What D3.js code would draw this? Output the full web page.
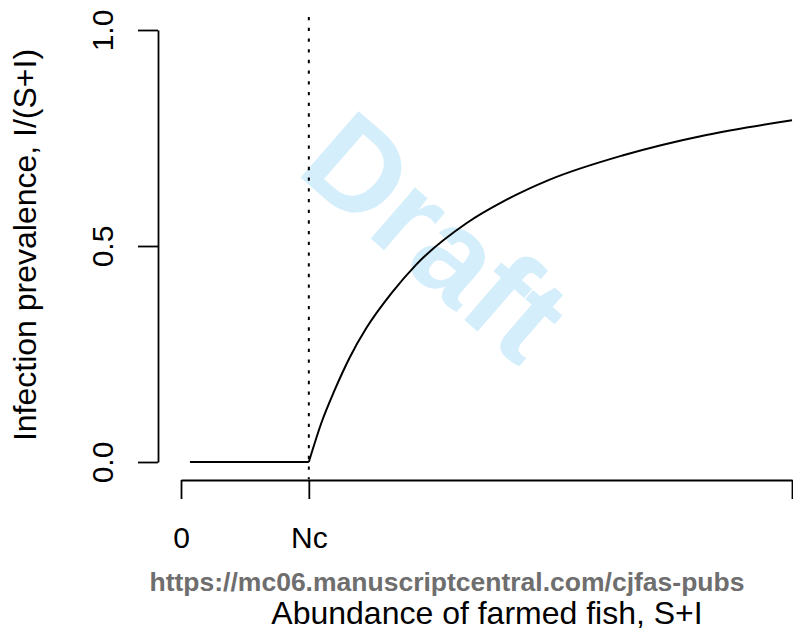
<!DOCTYPE html>
<html>
<head>
<meta charset="utf-8">
<script src="https://cdn.jsdelivr.net/npm/d3@7"></script>
<style>
  body { margin: 0; background: #fff; }
  svg { display: block; font-family: "Liberation Sans", Arial, Helvetica, sans-serif; }
</style>
</head>
<body>
<div id="chart"></div>
<script>
// values (abundance in units of Nc)
const abundance = [0.07, 1.0, 1.1, 1.2, 1.32, 1.45, 1.65, 1.84, 2.23, 2.54, 2.88, 3.46, 4.11, 4.78];
const prevalence = [0, 0, 0.092, 0.165, 0.242, 0.31, 0.392, 0.457, 0.552, 0.606, 0.653, 0.71, 0.757, 0.791];
const criticalAbundance = 1.0;
const xTickValues = [0, 1.0, 4.78];
const xTickLabels = ['0', 'Nc', ''];
const yTickValues = [0, 0.5, 1];

const width = 793, height = 630;
const svg = d3.select('#chart').append('svg')
  .attr('width', width)
  .attr('height', height);

const x = d3.scaleLinear().domain([0, 4.78]).range([181, 792]);
const y = d3.scaleLinear().domain([0, 1]).range([462, 30]);

// watermark
svg.append('text')
  .attr('transform', 'translate(407,270) rotate(41)')
  .attr('text-anchor', 'middle')
  .attr('font-size', 128)
  .attr('font-weight', 'bold')
  .attr('fill', '#d4eefb')
  .text('Draft');

// y axis
const yAxis = svg.append('g')
  .attr('transform', 'translate(158,0)')
  .call(d3.axisLeft(y).tickValues(yTickValues).tickFormat(d3.format('.1f'))
    .tickSize(20).tickSizeOuter(0));
yAxis.selectAll('path, line').attr('stroke', '#000').attr('stroke-width', 1.8);
yAxis.selectAll('text')
  .attr('x', null).attr('dy', null)
  .attr('text-anchor', 'middle')
  .attr('transform', 'translate(-45,0) rotate(-90)')
  .attr('font-size', 30)
  .attr('fill', '#000');

// x axis
const xAxis = svg.append('g')
  .attr('transform', 'translate(0,480)')
  .call(d3.axisBottom(x).tickValues(xTickValues).tickFormat((d, i) => xTickLabels[i])
    .tickSize(19).tickSizeOuter(0));
xAxis.selectAll('path, line').attr('stroke', '#000').attr('stroke-width', 1.8);
xAxis.selectAll('text')
  .attr('y', 68).attr('dy', null)
  .attr('font-size', 30)
  .attr('fill', '#000');

// critical abundance
svg.append('line')
  .attr('x1', x(criticalAbundance)).attr('x2', x(criticalAbundance))
  .attr('y1', y(1.03)).attr('y2', y(-0.04))
  .attr('stroke', '#000')
  .attr('stroke-width', 2)
  .attr('stroke-dasharray', '3.3 7.4');

// prevalence curve: flat below Nc, rising above it
const pts = abundance.map((a, i) => [a, prevalence[i]]);
const flat = pts.filter(p => p[0] <= criticalAbundance);
const rising = pts.filter(p => p[0] >= criticalAbundance);
svg.append('path')
  .datum(flat)
  .attr('fill', 'none').attr('stroke', '#000').attr('stroke-width', 2)
  .attr('d', d3.line().x(d => x(d[0])).y(d => y(d[1])));
svg.append('path')
  .datum(rising)
  .attr('fill', 'none').attr('stroke', '#000').attr('stroke-width', 2)
  .attr('d', d3.line().x(d => x(d[0])).y(d => y(d[1])).curve(d3.curveMonotoneX));

// axis titles
svg.append('text')
  .attr('transform', 'translate(36,245) rotate(-90)')
  .attr('text-anchor', 'middle')
  .attr('font-size', 32)
  .text('Infection prevalence, I/(S+I)');

svg.append('text')
  .attr('x', 447).attr('y', 591)
  .attr('text-anchor', 'middle')
  .attr('font-size', 26.5)
  .attr('font-weight', 'bold')
  .attr('fill', '#6e6e6e')
  .text('https://mc06.manuscriptcentral.com/cjfas-pubs');

svg.append('text')
  .attr('x', 487).attr('y', 624)
  .attr('text-anchor', 'middle')
  .attr('font-size', 32)
  .text('Abundance of farmed fish, S+I');
</script>
</body>
</html>
